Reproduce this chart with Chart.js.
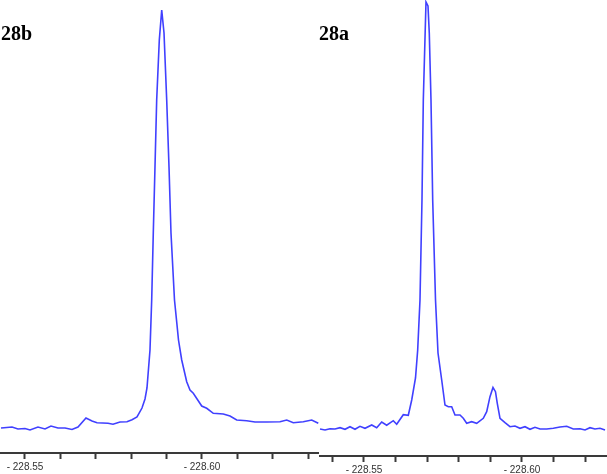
<!DOCTYPE html>
<html>
<head>
<meta charset="utf-8">
<script src="https://cdn.jsdelivr.net/npm/chart.js@4"></script>
<style>
    html, body { margin: 0; padding: 0; background: #fff; }
    #wrap { position: relative; width: 607px; height: 474px; overflow: hidden; }
    canvas { position: absolute; top: 0; }
    .tag {
        position: absolute;
        font-family: 'Liberation Serif', 'Times New Roman', serif;
        font-weight: bold;
        font-size: 20px;
        line-height: 20px;
        color: #000;
    }
</style>
</head>
<body>
<div id="wrap">
    <canvas id="left" width="319" height="474" style="left:0"></canvas>
    <canvas id="right" width="288" height="474" style="left:319px"></canvas>
    <div class="tag" style="left:1px;top:23px">28b</div>
    <div class="tag" style="left:319px;top:23px">28a</div>
</div>
<script>
// Spectrum 28b (left panel)
const leftShift = [
    228.54322, 228.54407, 228.54633, 228.54802, 228.55000, 228.55141, 228.55367, 228.55565,
    228.55734, 228.55932, 228.56130, 228.56328, 228.56497, 228.56723, 228.56893, 228.57034,
    228.57345, 228.57486, 228.57684, 228.57881, 228.58023, 228.58164, 228.58305, 228.58390,
    228.58446, 228.58531, 228.58579, 228.58624, 228.58672, 228.58720, 228.58794, 228.58862,
    228.58927, 228.59003, 228.59068, 228.59124, 228.59223, 228.59294, 228.59336, 228.59427,
    228.59568, 228.59661, 228.59754, 228.59992, 228.60133, 228.60319, 228.60602, 228.60791,
    228.60980, 228.61263, 228.61497, 228.61828, 228.62203, 228.62393, 228.62579, 228.62862,
    228.63099, 228.63285
];
const leftIntensity = [
    0, 0.07, 0.24, -0.24, -0.12, -0.48, 0.24, -0.24,
    0.48, 0, 0, -0.36, 0.24, 2.39, 1.67, 1.27,
    1.12, 0.89, 1.44, 1.51, 1.99, 2.63, 4.78, 6.94,
    9.57, 18.66, 30.62, 46.65, 62.44, 78.47, 92.82, 100,
    94.50, 78.47, 62.44, 46.65, 30.62, 24.64, 21.05, 16.27,
    11.08, 9.09, 8.30, 5.26, 4.71, 3.52, 3.35, 2.87,
    1.91, 1.75, 1.44, 1.44, 1.51, 1.91, 1.27, 1.51,
    1.91, 1.12
];

// Spectrum 28a (right panel)
const rightShift = [
    228.53608, 228.53766, 228.53924, 228.54082, 228.54241, 228.54399, 228.54557, 228.54715,
    228.54873, 228.55032, 228.55244, 228.55402, 228.55560, 228.55718, 228.55927, 228.56035,
    228.56244, 228.56402, 228.56510, 228.56630, 228.56699, 228.56772, 228.56835, 228.56877,
    228.56962, 228.57025, 228.57066, 228.57120, 228.57174, 228.57263, 228.57342, 228.57459,
    228.57563, 228.57668, 228.57775, 228.57880, 228.58038, 228.58142, 228.58250, 228.58408,
    228.58566, 228.58775, 228.58883, 228.58987, 228.59082, 228.59161, 228.59218, 228.59304,
    228.59462, 228.59620, 228.59778, 228.59937, 228.60095, 228.60253, 228.60411, 228.60570,
    228.60782, 228.60991, 228.61203, 228.61415, 228.61623, 228.61835, 228.61994, 228.62152,
    228.62310, 228.62468, 228.62627
];
const rightIntensity = [
    -0.24, -0.48, -0.17, -0.24, 0.07, -0.31, 0.31, -0.31,
    0.41, -0.07, 0.72, 0.07, 1.44, 0.65, 1.75, 0.89,
    3.18, 3.04, 6.70, 11.96, 18.66, 30.62, 54.55, 78.47,
    101.91, 100.96, 94.50, 78.47, 54.55, 30.62, 17.94, 11.48,
    5.50, 5.10, 5.10, 3.11, 3.11, 2.32, 1.12, 1.51,
    1.12, 2.32, 3.90, 7.49, 9.69, 8.68, 5.91, 2.32,
    1.27, 0.31, 0.48, -0.07, 0.31, -0.31, 0.17, -0.24,
    -0.24, -0.07, 0.24, 0.41, -0.24, -0.17, -0.48, 0.07,
    -0.24, -0.07, -0.48
];

// axis ticks (every 0.01, labelled every 0.05)
const leftTicks = [228.55, 228.56, 228.57, 228.58, 228.59, 228.60, 228.61, 228.62, 228.63];
const rightTicks = [228.54, 228.55, 228.56, 228.57, 228.58, 228.59, 228.60, 228.61, 228.62];
const tickLabels = { '228.55': '- 228.55', '228.60': '- 228.60' };

const LINE_COLOR = '#4040ff';
const AXIS_COLOR = '#3a3a3a';

function toPoints(xs, ys) {
    return xs.map((x, i) => ({ x: x, y: ys[i] }));
}

function createSpectrum(canvas, xs, ys, ticks, range, axisHeight) {
    return new Chart(canvas, {
        type: 'line',
        data: {
            datasets: [{
                data: toPoints(xs, ys),
                borderColor: LINE_COLOR,
                borderWidth: 1.6,
                pointRadius: 0,
                tension: 0,
                fill: false
            }]
        },
        options: {
            responsive: false,
            animation: false,
            layout: { padding: 0 },
            plugins: {
                legend: { display: false },
                tooltip: { enabled: false }
            },
            scales: {
                x: {
                    type: 'linear',
                    min: range.xMin,
                    max: range.xMax,
                    afterBuildTicks: (scale) => {
                        scale.ticks = ticks.map(v => ({ value: v }));
                    },
                    afterFit: (scale) => {
                        scale.height = axisHeight;
                    },
                    grid: {
                        drawOnChartArea: false,
                        drawTicks: true,
                        tickLength: 6,
                        tickWidth: 2,
                        tickColor: AXIS_COLOR
                    },
                    border: { display: true, color: AXIS_COLOR, width: 2 },
                    ticks: {
                        autoSkip: false,
                        maxRotation: 0,
                        padding: 2,
                        color: '#333',
                        font: { family: 'Liberation Sans, Arial, sans-serif', size: 10 },
                        callback: (value) => tickLabels[value.toFixed(2)] || ''
                    }
                },
                y: {
                    display: false,
                    min: range.yMin,
                    max: range.yMax
                }
            }
        }
    });
}

createSpectrum(document.getElementById('left'), leftShift, leftIntensity, leftTicks,
    { xMin: 228.54294, xMax: 228.63305, yMin: -5.98, yMax: 102.39 }, 21);

createSpectrum(document.getElementById('right'), rightShift, rightIntensity, rightTicks,
    { xMin: 228.53576, xMax: 228.62690, yMin: -6.70, yMax: 102.39 }, 18);
</script>
</body>
</html>
